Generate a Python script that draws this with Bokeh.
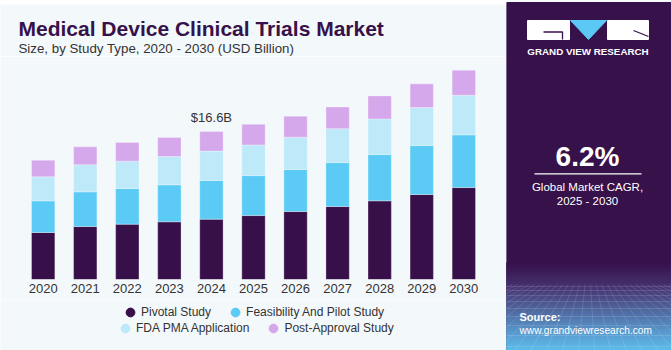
from bokeh.plotting import figure
from bokeh.models import FactorRange, Range1d, Legend, LegendItem, ColumnDataSource
from bokeh.layouts import row, column
from bokeh.core.properties import value
from bokeh.embed import file_html
from bokeh.resources import INLINE

# ---------------- data ----------------
years = ["2020", "2021", "2022", "2023", "2024", "2025", "2026", "2027", "2028", "2029", "2030"]
pivotal = [5.27, 5.94, 6.21, 6.47, 6.77, 7.17, 7.62, 8.18, 8.82, 9.53, 10.31]
feasibility = [3.55, 3.89, 3.99, 4.15, 4.33, 4.48, 4.71, 4.93, 5.19, 5.49, 5.91]
fda_pma = [2.69, 3.03, 3.07, 3.17, 3.30, 3.44, 3.63, 3.81, 4.00, 4.26, 4.45]
post_approval = [1.87, 2.02, 2.09, 2.13, 2.20, 2.32, 2.35, 2.43, 2.58, 2.66, 2.80]
series_names = ["Pivotal Study", "Feasibility And Pilot Study", "FDA PMA Application", "Post-Approval Study"]
highlight_year = "2024"
title_text = "Medical Device Clinical Trials Market"
subtitle_text = "Size, by Study Type, 2020 - 2030 (USD Billion)"
cagr_text = "6.2%"

colors = ["#37104A", "#5BCBF5", "#BDE9F9", "#D5A8EC"]
FONT = "Liberation Sans"
BG = "#F3F8FB"
DARK = "#37114A"


def blank(w, h, bg, xr, yr):
    f = figure(width=w, height=h, x_range=xr, y_range=yr, output_backend="svg",
               toolbar_location=None, min_border=0, x_axis_location=None, y_axis_location=None,
               background_fill_color=bg, border_fill_color=bg, outline_line_color=None)
    f.grid.visible = False
    return f


source = ColumnDataSource(dict(year=years, pivotal=pivotal, feasibility=feasibility,
                               fda=fda_pma, post=post_approval))

# ---------------- stripe + header ----------------
stripe = blank(506, 4, "#5BC8F0", Range1d(0, 506), Range1d(0, 4))
header = blank(506, 52, BG, Range1d(0, 506), Range1d(56, 4))
header.text(x=[18], y=[28.2], text=[title_text], text_baseline="middle",
            text_font=value(FONT), text_font_size="21px", text_font_style="bold",
            text_color=DARK)
header.text(x=[18], y=[48.3], text=[subtitle_text], text_baseline="middle",
            text_font=value(FONT), text_font_size="13.3px", text_color="#333333")

# ---------------- main chart ----------------
p = figure(x_range=FactorRange(factors=years, range_padding=0.515, range_padding_units="absolute"),
           y_range=Range1d(0, 24.56),
           width=506, height=244, output_backend="svg", toolbar_location=None,
           min_border_left=0, min_border_right=0, min_border_top=4, min_border_bottom=21,
           y_axis_location=None, background_fill_color=BG, border_fill_color=BG,
           outline_line_color=None)
p.grid.visible = False

p.vbar_stack(["pivotal", "feasibility", "fda", "post"], x="year", width=0.555, color=colors,
             source=source, line_color="white", line_alpha=0.3, line_width=1)

ax = p.xaxis[0]
ax.axis_line_color = None
ax.major_tick_line_color = None
ax.minor_tick_line_color = None
ax.major_tick_out = 0
ax.major_tick_in = 0
ax.major_label_standoff = 4
ax.major_label_text_font = FONT
ax.major_label_text_font_size = "13px"
ax.major_label_text_color = "#333333"

i = years.index(highlight_year)
tot = pivotal[i] + feasibility[i] + fda_pma[i] + post_approval[i]
p.text(x=[highlight_year], y=[tot], text=[f"${tot:.1f}B"], y_offset=-14.4,
       text_align="center", text_baseline="middle", text_font=value(FONT),
       text_font_size="13px", text_color="#333333")

# ---------------- legend footer ----------------
footer = blank(506, 50, BG, Range1d(0, 506), Range1d(0, 50))
dums = [footer.scatter(x=[-100], y=[-100], marker="circle", size=9, fill_color=c, line_color=c)
        for c in colors]


def mk_legend(idx, loc):
    lg = Legend(items=[LegendItem(label=series_names[k], renderers=[dums[k]]) for k in idx],
                location=loc, orientation="horizontal", padding=0, margin=0, spacing=13,
                glyph_width=22, glyph_height=22, label_height=16, label_standoff=0,
                label_text_font=FONT, label_text_font_size="12px", label_text_color="#333333",
                border_line_color=None, background_fill_alpha=0)
    footer.add_layout(lg)


mk_legend([0, 1], (119, 27))
mk_legend([2, 3], (114, 11))

# ---------------- right panel ----------------
q = blank(165, 350, BG, Range1d(0, 165), Range1d(350, 0))
q.quad(left=[0], right=[165], top=[2], bottom=[350], color=DARK)

stops = [(262, (0x37, 0x11, 0x4A)), (285, (0x45, 0x30, 0x6E)), (310, (0x50, 0x68, 0xA0)),
         (335, (0x5A, 0xA0, 0xD4)), (350, (0x5C, 0xBD, 0xEB))]
gt, gb, gc = [], [], []
for yy in range(262, 350):
    for (y0, c0), (y1, c1) in zip(stops[:-1], stops[1:]):
        if y0 <= yy < y1:
            f = (yy - y0) / (y1 - y0)
            c = tuple(int(c0[k] + (c1[k] - c0[k]) * f) for k in range(3))
            gc.append("#%02x%02x%02x" % c)
            gt.append(yy)
            gb.append(yy + 1.2)
q.quad(left=0, right=165, top=gt, bottom=gb, color=gc)
hx, hy = [], []
for yy in [286, 290, 295, 301, 308, 316, 325, 335, 346]:
    hx.append([0, 165]); hy.append([yy, yy])
for bx in range(-200, 380, 16):
    top_x = 82 + (bx - 82) * 0.35
    hx.append([top_x, bx]); hy.append([284, 350])
q.multi_line(xs=hx, ys=hy, line_color="white", line_alpha=0.16, line_width=0.8)

# logo
q.quad(left=[21, 101], right=[63, 142], top=[20, 20], bottom=[39, 39], color="white")
q.patch(x=[64, 100, 82], y=[20, 20, 39], color="#5BC8F5")
q.multi_line(xs=[[37, 56, 56], [127, 142]], ys=[[31.5, 31.5, 39], [30, 36]],
             line_color=DARK, line_width=1.3)
q.text(x=[81.5], y=[51], text=["GRAND VIEW RESEARCH"], text_align="center",
       text_baseline="middle", text_font=value(FONT), text_font_size="9.8px",
       text_font_style="bold", text_color="white")

q.text(x=[81], y=[156.2], text=[cagr_text], text_align="center", text_baseline="middle",
       text_font=value(FONT), text_font_size="28px", text_font_style="bold", text_color="white")
q.segment(x0=[28], y0=[173.3], x1=[135], y1=[173.3], line_color="white", line_width=1.2)
q.text(x=[81, 81], y=[186, 200], text=["Global Market CAGR,", "2025 - 2030"],
       text_align="center", text_baseline="middle", text_font=value(FONT),
       text_font_size="11.5px", text_color="white")
q.text(x=[13], y=[316], text=["Source:"], text_baseline="middle", text_font=value(FONT),
       text_font_size="11px", text_font_style="bold", text_color="white")
q.text(x=[13], y=[329.5], text=["www.grandviewresearch.com"], text_baseline="middle",
       text_font=value(FONT), text_font_size="10.2px", text_color="white")

layout = row(column(stripe, header, p, footer, spacing=0), q, spacing=0)
open("out.html", "w").write(file_html(layout, INLINE))
